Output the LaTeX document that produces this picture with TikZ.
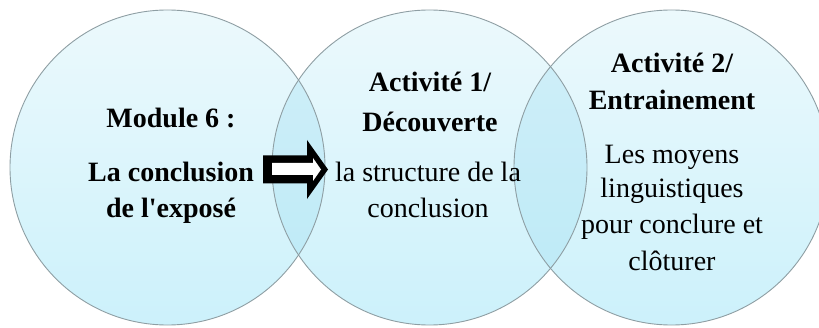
\documentclass[tikz,border=0pt]{standalone}
\usepackage{fontspec}
\setmainfont{Liberation Serif}[Ligatures=TeXOff]
\usetikzlibrary{calc}
\definecolor{rimgray}{HTML}{8E9EA3}
\definecolor{topfill}{HTML}{ECF9FC}
\definecolor{botfill}{HTML}{CCF1FB}
\definecolor{overlapcol}{HTML}{8FD8EE}
\tikzset{
  lbl/.style={anchor=base, inner sep=0pt, font=\fontsize{28}{30}\selectfont},
  blbl/.style={lbl, font=\fontsize{28}{30}\selectfont\bfseries},
  rim/.style={draw=rimgray, line width=0.9pt},
}
\begin{document}
\begin{tikzpicture}[x=1pt,y=1pt]
\useasboundingbox (0,0) rectangle (819,327);
\clip (0,0) rectangle (819,327);
% circle centres
\coordinate (c1) at (167.5,159.5);
\coordinate (c2) at (429.5,159.5);
\coordinate (c3) at (671.5,159.5);
\def\R{157.5}
% fills
\foreach \c in {c1,c2,c3}{
  \shade[top color=topfill, bottom color=botfill] (\c) circle[radius=\R];
}
% overlaps
\begin{scope}
  \clip (c1) circle[radius=\R];
  \fill[overlapcol, fill opacity=0.28] (c2) circle[radius=\R];
\end{scope}
\begin{scope}
  \clip (c2) circle[radius=\R];
  \fill[overlapcol, fill opacity=0.28] (c3) circle[radius=\R];
\end{scope}
% rims
\foreach \c in {c1,c2,c3}{
  \draw[rim] (\c) circle[radius=\R];
}
% circle 1 text
\node[blbl] (m1) at (171,199) {Module 6 :};
\node[blbl] (m2) at (171,146) {La conclusion};
\node[blbl] (m3) at (171,110) {de l'exposé};
% circle 2 text
\node[blbl] (a1) at (430,235) {Activité 1/};
\node[blbl] (a2) at (430,195) {Découverte};
\node[lbl] (a3) at (428,146) {la structure de la};
\node[lbl] (a4) at (428,110) {conclusion};
% circle 3 text
\node[blbl] (b1) at (672,254) {Activité 2/};
\node[blbl] (b2) at (672,217) {Entrainement};
\node[lbl] (b3) at (672,164) {Les moyens};
\node[lbl] (b4) at (672,129) {linguistiques};
\node[lbl] (b5) at (672,94) {pour conclure et};
\node[lbl] (b6) at (672,57) {clôturer};
% block arrow: black outline shape with white inner
\fill[black] (263,171.5) -- (307,171.5) -- (307,187) -- (328,157.5) -- (307,128) -- (307,143.5) -- (263,143.5) -- cycle;
\fill[white] (272,164) -- (313,164) -- (313,169) -- (321,157.5) -- (313,146) -- (313,152) -- (272,152) -- cycle;
\end{tikzpicture}
\end{document}
